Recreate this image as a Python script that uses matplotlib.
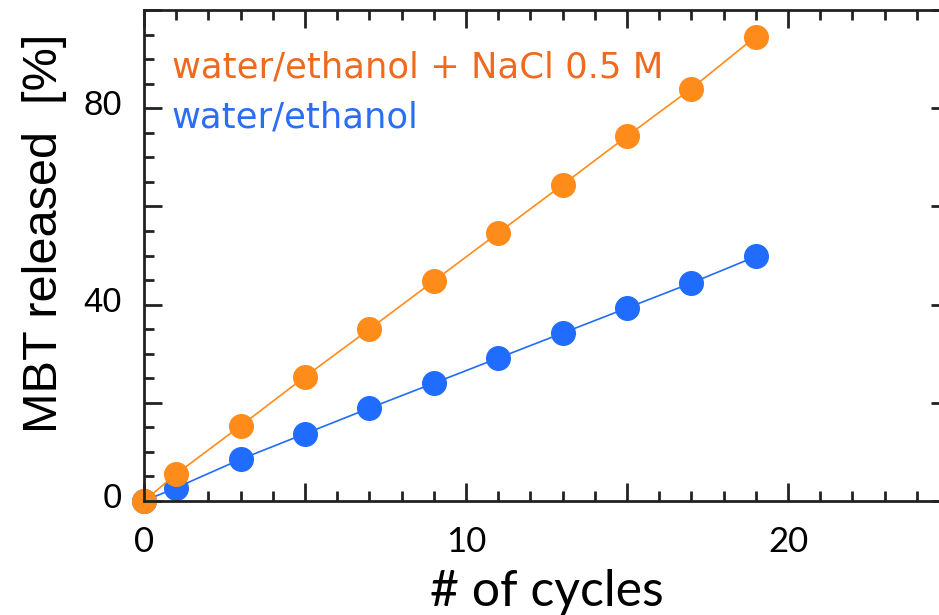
import matplotlib
matplotlib.use("Agg")
import matplotlib.pyplot as plt
import matplotlib.transforms as mtransforms
from matplotlib.ticker import MultipleLocator, FuncFormatter

# release data
cycles = [0, 1, 3, 5, 7, 9, 11, 13, 15, 17, 19]
water_nacl = [0, 5.5, 15.3, 25.3, 35.0, 44.8, 54.6, 64.4, 74.3, 84.0, 94.6]
water = [0, 2.7, 8.5, 13.7, 18.9, 24.0, 29.1, 34.2, 39.3, 44.4, 49.8]

label_nacl = "water/ethanol + NaCl 0.5 M"
label_water = "water/ethanol"

x_labeled = [0, 10, 20]
y_labeled = [0, 40, 80]

orange = "#ff8c1a"
blue = "#1f6cff"
orange_txt = "#ee6a1e"
blue_txt = "#2a6ef5"
ink = "#222222"

fig = plt.figure(figsize=(9.39, 6.15), dpi=100)
ax = fig.add_axes([144 / 939, 114 / 615, 805 / 939, 491 / 615])

ax.plot(cycles, water, "-o", color=blue, lw=1.2, ms=17, mec=blue, clip_on=False)
ax.plot(cycles, water_nacl, "-o", color=orange, lw=1.2, ms=17, mec=orange, clip_on=False)

ax.set_xlim(0, 25)
ax.set_ylim(0, 100)

ax.xaxis.set_major_locator(MultipleLocator(5))
ax.xaxis.set_minor_locator(MultipleLocator(1))
ax.yaxis.set_major_locator(MultipleLocator(20))
ax.yaxis.set_minor_locator(MultipleLocator(5))
ax.xaxis.set_major_formatter(FuncFormatter(lambda v, p: "%d" % v if round(v) in x_labeled else ""))
ax.yaxis.set_major_formatter(FuncFormatter(lambda v, p: "%d" % v if round(v) in y_labeled else ""))

ax.tick_params(which="both", direction="in", top=True, right=True, width=2, color=ink)
ax.tick_params(which="major", length=13)
ax.tick_params(which="minor", length=7)
ax.tick_params(axis="x", pad=18, labelsize=25)
ax.tick_params(axis="y", pad=16, labelsize=25)
for t in ax.get_xticklabels():
    t.set_fontfamily("Lato")
for t in ax.get_yticklabels():
    t.set_fontfamily("Liberation Sans")
    t.set_transform(t.get_transform() + mtransforms.ScaledTranslation(0, 6 / 100, fig.dpi_scale_trans))

for s in ax.spines.values():
    s.set_linewidth(2)
    s.set_color(ink)

ax.set_xlabel("# of cycles", fontsize=36, family="Lato", labelpad=8)
ax.set_ylabel("MBT released  [%]", fontsize=35, family="Liberation Sans")
ax.yaxis.set_label_coords(-0.096, 0.545)

# inline legend
ax.text(0.87, 86.2, label_nacl, color=orange_txt, fontsize=25.5, family="DejaVu Sans", va="baseline")
ax.text(0.87, 76.0, label_water, color=blue_txt, fontsize=25.5, family="DejaVu Sans", va="baseline")

fig.savefig("out.png", dpi=100)
